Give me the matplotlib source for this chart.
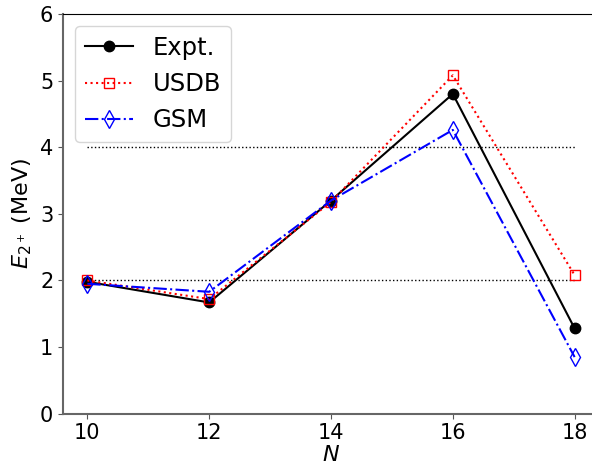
import matplotlib
matplotlib.use("Agg")
import matplotlib.pyplot as plt

N = [10, 12, 14, 16, 18]
expt = [1.98, 1.67, 3.20, 4.80, 1.28]
usdb = [2.00, 1.72, 3.18, 5.08, 2.08]
gsm = [1.95, 1.83, 3.20, 4.26, 0.85]
ref_levels = [2.0, 4.0]

fig = plt.figure(figsize=(5.92, 4.70), dpi=100)
ax = fig.add_axes([63/592, (470-413.7)/470, (599-63)/592, (413.7-14)/470])

for lv in ref_levels:
    ax.plot([N[0], N[-1]], [lv, lv], ls=':', color='black', lw=1.0)

ax.plot(N, expt, '-', color='black', marker='o', ms=7.5, lw=1.5, label='Expt.')
ax.plot(N, usdb, ':', color='red', marker='s', ms=7, mfc='none', lw=1.5, label='USDB')
ax.plot(N, gsm, '-.', color='blue', marker='d', ms=9, mfc='none', lw=1.5, label='GSM')

ax.set_xlim(9.6, 18.4)
ax.set_ylim(0, 6)
ax.set_xticks([10, 12, 14, 16, 18])
ax.set_yticks([0, 1, 2, 3, 4, 5, 6])
ax.tick_params(labelsize=15, colors='#555555', labelcolor='black')
for s in ['left', 'bottom']:
    ax.spines[s].set_color('#666666')
    ax.spines[s].set_linewidth(1.5)
ax.spines['right'].set_visible(False)
ax.set_xlabel('$N$', fontsize=16, labelpad=1)
ax.set_ylabel('$E_{2^+}$ (MeV)', fontsize=16)
ax.legend(fontsize=17.5, loc='upper left', handlelength=2.0)
fig.savefig('out.png', dpi=100)
